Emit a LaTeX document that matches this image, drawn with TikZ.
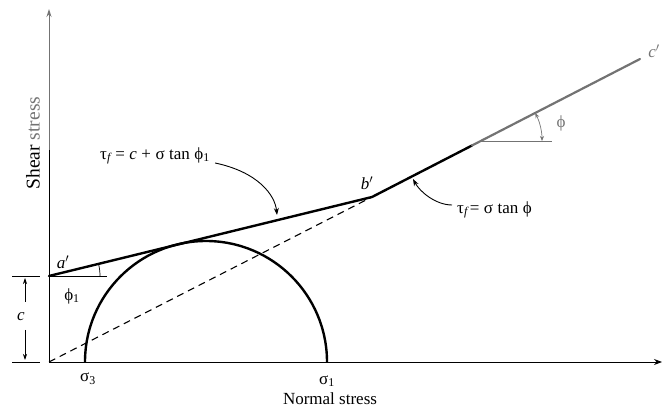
\documentclass[tikz,border=0pt]{standalone}
\usepackage{fontspec}
\setmainfont{Liberation Serif}
\usetikzlibrary{arrows.meta}
\tikzset{
  lbl/.style={inner sep=0pt, font=\fontsize{17}{19}\selectfont},
  biglbl/.style={inner sep=0pt, font=\fontsize{19.5}{22}\selectfont},
  envelope/.style={line width=2.4pt, line cap=round},
  axisline/.style={line width=0.9pt},
  thinline/.style={line width=0.7pt},
  pointer/.style={line width=0.9pt, -{Stealth[length=7pt,width=5pt]}},
}
\newcommand{\gp}{\hspace{4.5pt}}
\begin{document}
\begin{tikzpicture}[x=1pt,y=1pt]
\useasboundingbox (0,0) rectangle (664,412);
% key points
\coordinate (O) at (49,50);
\coordinate (ymid) at (49,262);
\coordinate (ytop) at (49,403);
\coordinate (xend) at (662,50);
\coordinate (a) at (49,136);
\coordinate (b) at (372,215);
\coordinate (k) at (472,266.5);
\coordinate (c) at (640,353);
\coordinate (s3) at (85,50);
\coordinate (s1) at (327,50);
% axes
\draw[axisline] (O) -- (ymid);
\draw[axisline, black!55, -{Stealth[length=8pt,width=5pt]}] (ymid) -- (ytop);
\draw[axisline, -{Stealth[length=8pt,width=6pt]}] (O) -- (xend);
% Mohr circle
\draw[line width=2.4pt] (s1) arc[start angle=0, end angle=180, radius=121];
% dashed line through origin
\draw[line width=1.1pt, dash pattern=on 7pt off 5pt] (O) -- (b);
% envelopes
\draw[envelope] (a) -- (b) -- (k);
\draw[line width=2.2pt, black!55, line cap=round] (k) -- (c);
% phi1 reference
\coordinate (a1) at (107,136);
\draw[thinline] (a) -- (a1);
\draw[thinline] (a) ++(51,0) arc[start angle=0, end angle=13.9, radius=51];
% phi reference
\coordinate (p0) at (481,271);
\coordinate (p1) at (552,271);
\draw[thinline, black!55] (p0) -- (p1);
\draw[thinline, black!55, {Stealth[length=5pt,width=4pt]}-{Stealth[length=5pt,width=4pt]}] (p0) ++(61,0) arc[start angle=0, end angle=27.2, radius=61];
% c dimension
\coordinate (t1a) at (12,136); \coordinate (t1b) at (40,136);
\coordinate (t2a) at (12,50); \coordinate (t2b) at (40,50);
\draw[thinline] (t1a) -- (t1b);
\draw[thinline] (t2a) -- (t2b);
\coordinate (u0) at (25,110); \coordinate (u1) at (25,134);
\coordinate (d0) at (25,82); \coordinate (d1) at (25,52);
\draw[thinline, -{Stealth[length=6pt,width=4pt]}] (u0) -- (u1);
\draw[thinline, -{Stealth[length=6pt,width=4pt]}] (d0) -- (d1);
% labels
\node[lbl] (lc) at (21,95) {\itshape c};
\node[lbl] (la) at (63,150) {\itshape a\/\upshape$'$};
\node[lbl] (lphi1) at (72,116) {ϕ\textsubscript{1}};
\node[lbl] (lb) at (367,229) {\itshape b\/\upshape$'$};
\node[lbl, text=black!55] (lcp) at (654,361) {\itshape c\/\upshape$'$};
\node[lbl, text=black!55] (lphi) at (561,289) {ϕ};
\node[lbl] (ls3) at (88,33) {σ\textsubscript{3}};
\node[lbl] (ls1) at (327,31) {σ\textsubscript{1}};
\node[lbl] (lnorm) at (330,13) {Normal stress};
\node[biglbl, rotate=90] (lshear) at (33,269) {Shear \textcolor{black!55}{stress}};
\node[lbl, anchor=west] (f1) at (100,256) {τ\textsubscript{\itshape f}\gp=\gp\itshape c\upshape\gp+\gp σ\gp tan\gp ϕ\textsubscript{1}};
\node[lbl, anchor=west] (f2) at (457,202) {τ\textsubscript{\itshape f}\hspace{2pt}=\gp σ\gp tan\gp ϕ};
% pointers
\coordinate (e1) at (277,197);
\coordinate (e2) at (413,233);
\draw[pointer] (f1.east) ++(5,-7) .. controls (258,240) and (275,217) .. (e1);
\draw[pointer] (f2.west) ++(-5,5) .. controls (436,207) and (420,220) .. (e2);
\end{tikzpicture}
\end{document}
